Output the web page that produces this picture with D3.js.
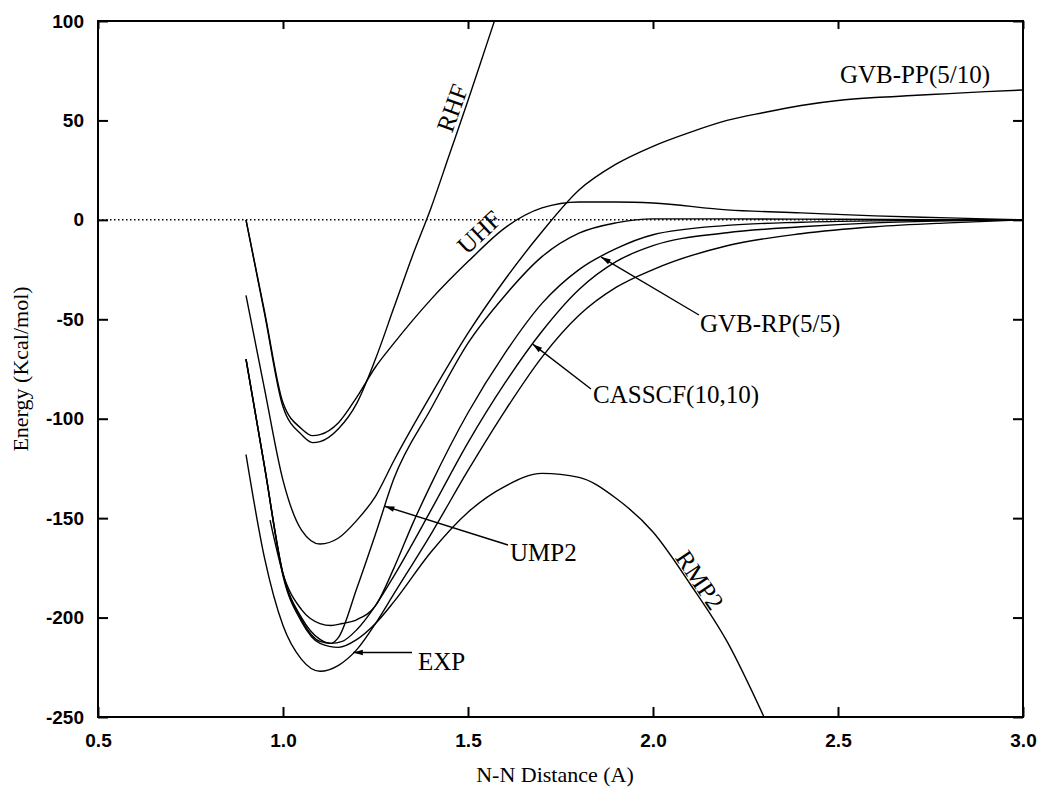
<!DOCTYPE html>
<html><head><meta charset="utf-8">
<script src="https://cdn.jsdelivr.net/npm/d3@7"></script>
<style>body{margin:0;background:#fff}</style>
</head><body>
<svg id="c" width="1039" height="790"></svg>
<script>
// ---- data (r in Angstrom, energy in kcal/mol) ----
const xTicks = [0.5, 1.0, 1.5, 2.0, 2.5, 3.0];
const yTicks = [100, 50, 0, -50, -100, -150, -200, -250];
const rhf = [[0.9,0],[0.95,-47],[1.0,-94],[1.05,-108],[1.08,-112],[1.1,-111.5],[1.15,-105],[1.2,-92],[1.25,-70],[1.3,-44],[1.35,-18],[1.4,6],[1.45,33],[1.5,60],[1.55,88],[1.6,116]];
const uhf = [[0.9,0],[0.95,-46],[1.0,-92],[1.05,-105],[1.08,-108.5],[1.1,-108],[1.15,-102],[1.2,-89],[1.25,-74],[1.3,-62],[1.4,-40],[1.5,-21],[1.6,-4],[1.7,6],[1.8,9],[1.9,9],[2.0,8.5],[2.2,5],[2.4,3.5],[2.6,2],[2.8,1],[3.0,0]];
const gvbpp = [[0.9,-38],[0.95,-85],[1.0,-131],[1.05,-156],[1.1,-163],[1.15,-160],[1.2,-151],[1.25,-139],[1.3,-121],[1.4,-88],[1.5,-57],[1.6,-30],[1.7,-6],[1.8,15],[1.9,28],[2.0,37],[2.1,44],[2.2,50],[2.3,54],[2.4,57.5],[2.5,60],[2.6,61.5],[2.7,62.5],[2.8,63.5],[2.9,64.5],[3.0,65.3]];
const gvbrp = [[0.965,-151],[1.0,-178],[1.05,-196],[1.1,-203],[1.13,-204],[1.16,-203],[1.2,-201],[1.25,-194],[1.3,-175],[1.35,-153],[1.4,-133],[1.5,-97],[1.6,-67],[1.7,-42],[1.8,-25],[1.9,-14.5],[2.0,-7.5],[2.2,-2.8],[2.4,-1.2],[2.6,-0.5],[2.8,-0.2],[3.0,0]];
const casscf = [[0.9,-70],[0.95,-124],[1.0,-178],[1.05,-200],[1.1,-211],[1.13,-213],[1.16,-212],[1.2,-206],[1.25,-194],[1.3,-179],[1.4,-146],[1.5,-112],[1.6,-82],[1.7,-56],[1.8,-35],[1.9,-21],[2.0,-13],[2.2,-6.5],[2.4,-3.5],[2.6,-1.5],[2.8,-0.5],[3.0,0]];
const ump2 = [[0.9,-70],[0.95,-124],[1.0,-178],[1.05,-201],[1.1,-212],[1.13,-213],[1.15,-210],[1.2,-185],[1.25,-158],[1.3,-130],[1.4,-95],[1.5,-62],[1.6,-38],[1.7,-18.5],[1.8,-6.7],[1.9,-1.5],[2.0,0.5],[2.2,0.5],[2.5,0.3],[3.0,0]];
const rmp2 = [[0.9,-70],[0.95,-124],[1.0,-179],[1.05,-202],[1.1,-213],[1.15,-215],[1.2,-211],[1.25,-203],[1.3,-192],[1.4,-167],[1.5,-147],[1.6,-134],[1.7,-127.5],[1.8,-129.5],[1.9,-140],[2.0,-157],[2.1,-183],[2.2,-212],[2.3,-250]];
const exp = [[0.9,-118],[0.95,-170],[1.0,-204],[1.05,-221],[1.1,-227],[1.15,-224],[1.2,-216],[1.25,-203],[1.3,-188],[1.4,-158],[1.5,-126],[1.6,-96],[1.7,-69],[1.8,-48],[1.9,-34],[2.0,-25],[2.2,-13],[2.4,-7],[2.6,-3.5],[2.8,-1.5],[3.0,0]];
const seriesList = [rhf, uhf, gvbpp, gvbrp, casscf, ump2, rmp2, exp];

// ---- layout ----
const svg = d3.select('#c');
const L = 98, R = 1023, T = 21, B = 717;
const x = d3.scaleLinear().domain([0.5, 3.0]).range([L, R]);
const y = d3.scaleLinear().domain([-250, 100]).range([B, T]);

svg.append('defs').append('clipPath').attr('id','clip')
  .append('rect').attr('x',L).attr('y',T).attr('width',R-L).attr('height',B-T);
const mk = svg.select('defs').append('marker').attr('id','arr')
  .attr('viewBox','0 -5 12 10').attr('refX',12).attr('refY',0)
  .attr('markerWidth',12).attr('markerHeight',8).attr('markerUnits','userSpaceOnUse')
  .attr('orient','auto');
mk.append('path').attr('d','M0,-3.5L12,0L0,3.5Z').attr('fill','#000');

// zero dotted line
svg.append('line').attr('x1',L).attr('x2',R).attr('y1',y(0)).attr('y2',y(0))
  .attr('stroke','#000').attr('stroke-width',1.5).attr('stroke-dasharray','1.5,2.5');

// curves
const line = d3.line().x(d=>x(d[0])).y(d=>y(d[1])).curve(d3.curveMonotoneX);
svg.append('g').attr('clip-path','url(#clip)').selectAll('path').data(seriesList).join('path')
  .attr('d', line).attr('fill','none').attr('stroke','#000').attr('stroke-width',1.4);

// axes (inward ticks on all four sides)
const tickFont = '"Liberation Sans", Arial, sans-serif';
const axL = d3.axisLeft(y).tickValues(yTicks).tickSize(-10).tickPadding(14).tickFormat(d => String(d));
const axR = d3.axisRight(y).tickValues(yTicks).tickSize(-10).tickFormat('');
const axB = d3.axisBottom(x).tickValues(xTicks).tickSize(-10).tickPadding(14).tickFormat(d => d.toFixed(1));
const axT = d3.axisTop(x).tickValues(xTicks).tickSize(-8).tickFormat('');
const gL = svg.append('g').attr('transform',`translate(${L},0)`).call(axL);
const gR = svg.append('g').attr('transform',`translate(${R},0)`).call(axR);
const gB = svg.append('g').attr('transform',`translate(0,${B})`).call(axB);
const gT = svg.append('g').attr('transform',`translate(0,${T})`).call(axT);
[gL,gR,gB,gT].forEach(g=>{
  g.select('.domain').remove();
  g.selectAll('line').attr('stroke','#000').attr('stroke-width',2);
  g.selectAll('text').attr('font-family',tickFont).attr('font-weight','bold').attr('font-size',19).attr('fill','#000');
});
gB.selectAll('text').attr('dy','0.85em');
svg.append('rect').attr('x',L).attr('y',T).attr('width',R-L).attr('height',B-T)
  .attr('fill','none').attr('stroke','#000').attr('stroke-width',2);

// axis titles
const serif = '"Liberation Serif", "Times New Roman", serif';
svg.append('text').attr('x',555).attr('y',782).attr('text-anchor','middle')
  .attr('font-family',serif).attr('font-size',22).text('N-N Distance (A)');
svg.append('text').attr('transform','translate(28,369) rotate(-90)').attr('text-anchor','middle')
  .attr('font-family',serif).attr('font-size',22).text('Energy (Kcal/mol)');

// curve labels
function at(s, r){
  for(let i=1;i<s.length;i++){ if(r<=s[i][0]){const a=s[i-1],b=s[i];return a[1]+(b[1]-a[1])*(r-a[0])/(b[0]-a[0]);} }
  return s[s.length-1][1];
}
const inline = [
  {t:'RHF', px:[452,108], rot:-70},
  {t:'UHF', px:[479,232], rot:-43},
  {t:'RMP2', px:[700,580], rot:56},
  {t:'GVB-PP(5/10)', px:[840,83], rot:0, anchor:'start'}
];
inline.forEach(d=>{
  svg.append('text').attr('transform',`translate(${d.px[0]},${d.px[1]}) rotate(${d.rot})`)
    .attr('text-anchor',d.anchor||'middle').attr('dy',d.anchor?0:'0.35em')
    .attr('font-family',serif).attr('font-size',25).text(d.t);
});
const arrows = [
  {t:'EXP', s:exp, r:1.19, tail:[412,null], txt:[418,670]},
  {t:'UMP2', s:ump2, r:1.275, tail:[508,545], txt:[510,561]},
  {t:'CASSCF(10,10)', s:casscf, r:1.675, tail:[591,389], txt:[593,403]},
  {t:'GVB-RP(5/5)', s:gvbrp, r:1.86, tail:[699,315], txt:[700,332]}
];
arrows.forEach(d=>{
  const tx = x(d.r), ty = y(at(d.s,d.r));
  const ex = d.tail[0], ey = d.tail[1]===null ? ty : d.tail[1];
  svg.append('line').attr('x1',ex).attr('y1',ey).attr('x2',tx).attr('y2',ty)
    .attr('stroke','#000').attr('stroke-width',1.4).attr('marker-end','url(#arr)');
  svg.append('text').attr('x',d.txt[0]).attr('y',d.txt[1])
    .attr('font-family',serif).attr('font-size',25).text(d.t);
});
</script>
</body></html>
